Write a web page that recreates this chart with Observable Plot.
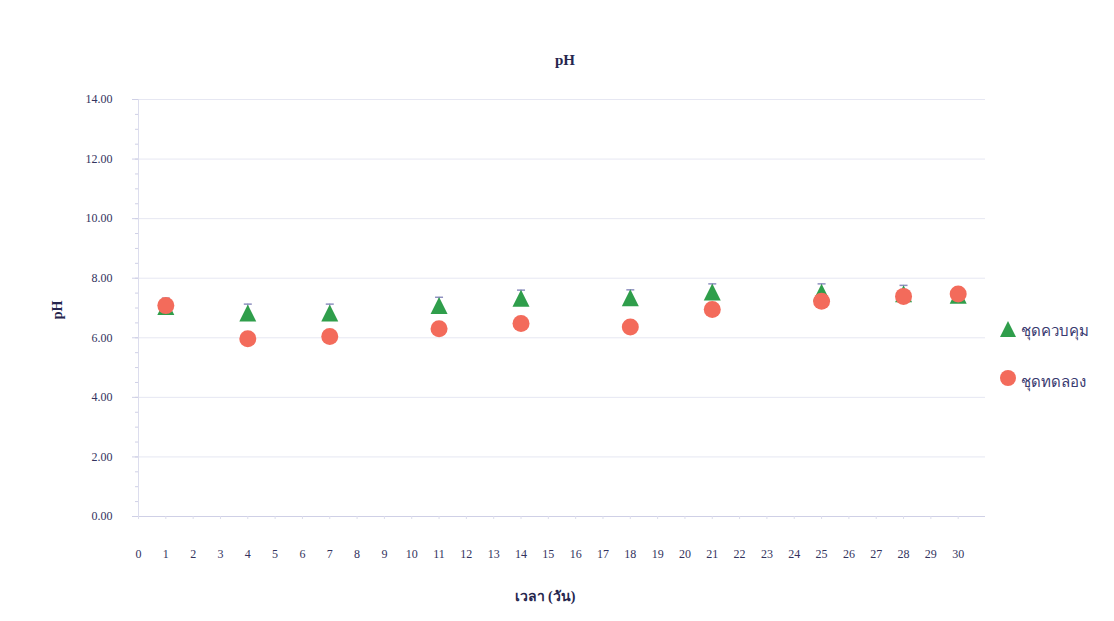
<!DOCTYPE html>
<html>
<head>
<meta charset="utf-8">
<script src="https://cdn.jsdelivr.net/npm/d3@7"></script>
<script src="https://cdn.jsdelivr.net/npm/@observablehq/plot@0.6"></script>
<style>
  html, body { margin: 0; padding: 0; background: #fff; }
  #wrap { position: relative; width: 1114px; height: 621px; font-family: "Liberation Serif", "DejaVu Serif", serif; color: #26264e; }
  .abs { position: absolute; white-space: nowrap; }
  #title { left: 565px; top: 60px; transform: translate(-50%, -50%); font-weight: bold; font-size: 15px; }
  #ylabel { left: 58px; top: 310px; transform: translate(-50%, -50%) rotate(-90deg); font-weight: bold; font-size: 14px; }
  #xlabel { left: 545px; top: 596px; transform: translate(-50%, -50%); font-weight: bold; font-size: 14px; }
  .legend-item { position: absolute; left: 999px; height: 18px; }
  .legend-item svg { position: absolute; left: 0; top: 0; }
  .legend-item span { position: absolute; left: 22px; white-space: nowrap; font-size: 15px; color: #3a3a70; }
</style>
</head>
<body>
<div id="wrap">
  <div id="chart"></div>
  <div id="title" class="abs">pH</div>
  <div id="ylabel" class="abs">pH</div>
  <div id="xlabel" class="abs">เวลา (วัน)</div>
  <div class="legend-item" style="top:320px"><svg width="18" height="18"><path d="M9,1L17,17L1,17Z" fill="#2f9e4b"/></svg><span style="top:-1px">ชุดควบคุม</span></div>
  <div class="legend-item" style="top:369px"><svg width="18" height="18"><circle cx="9" cy="9" r="8" fill="#f36b5b"/></svg><span style="top:-7px; top:1px">ชุดทดลอง</span></div>
</div>
<script>
// Sampling days and pH readings
const days = [1, 4, 7, 11, 14, 18, 21, 25, 28, 30];
const controlPH = [7.05, 6.83, 6.83, 7.08, 7.33, 7.34, 7.54, 7.53, 7.48, 7.43];
const controlErr = [0.28, 0.30, 0.30, 0.28, 0.27, 0.27, 0.27, 0.28, 0.28, 0.20];
const treatmentPH = [7.08, 5.97, 6.04, 6.30, 6.48, 6.36, 6.95, 7.23, 7.39, 7.47];

// Axis ticks
const xTicks = d3.range(0, 31);
const yTicks = [0, 2, 4, 6, 8, 10, 12, 14];
const yMinorTicks = d3.range(0, 14.01, 0.5);

const control = days.map((d, i) => ({day: d, ph: controlPH[i], err: controlErr[i]}));
const treatment = days.map((d, i) => ({day: d, ph: treatmentPH[i]}));

// Isosceles triangle that fills a square box, centred on the point
const boxTriangle = {
  draw(ctx, size) {
    const h = Math.sqrt(size / Math.PI);
    ctx.moveTo(0, -h);
    ctx.lineTo(h, h);
    ctx.lineTo(-h, h);
    ctx.closePath();
  }
};
// Horizontal dash used as the error-bar cap
const capSymbol = {
  draw(ctx, size) {
    const w = Math.sqrt(size / Math.PI);
    ctx.moveTo(-w, 0);
    ctx.lineTo(w, 0);
  }
};

const chart = Plot.plot({
  width: 1114,
  height: 621,
  marginTop: 99,
  marginBottom: 105,
  marginLeft: 138,
  marginRight: 129,
  style: {fontFamily: "'Liberation Serif', serif", fontSize: "12px", color: "#33335e", background: "transparent"},
  x: {domain: [0, 31]},
  y: {domain: [0, 14]},
  marks: [
    Plot.gridY(yTicks.filter(v => v > 0), {stroke: "#e6e7f2", strokeOpacity: 1, strokeWidth: 1}),
    Plot.ruleY([0], {stroke: "#cfd0e6"}),
    Plot.ruleX([0], {stroke: "#dcdded"}),
    Plot.axisY(yMinorTicks, {tickSize: 3, tickFormat: () => "", stroke: "#cfd0e6", label: null}),
    Plot.axisY(yTicks, {tickSize: 6, tickPadding: 20, tickFormat: d3.format(".2f"), stroke: "#cfd0e6", label: null, fill: "#33335e"}),
    Plot.axisX(xTicks, {tickSize: 3, tickPadding: 30, stroke: "#dcdded", label: null, fill: "#33335e"}),
    // control error bars (upper whisker)
    Plot.ruleX(control, {x: "day", y1: "ph", y2: d => d.ph + d.err, stroke: "#8f90c0", strokeWidth: 1}),
    Plot.dot(control, {x: "day", y: d => d.ph + d.err, symbol: capSymbol, r: 4, stroke: "#8f90c0", strokeWidth: 1.5, fill: "none"}),
    Plot.dot(control, {x: "day", y: "ph", symbol: boxTriangle, r: 8.5, fill: "#2f9e4b", stroke: "none"}),
    Plot.dot(treatment, {x: "day", y: "ph", symbol: "circle", r: 8.5, fill: "#f36b5b", stroke: "none"})
  ]
});
document.getElementById("chart").appendChild(chart);
</script>
</body>
</html>
